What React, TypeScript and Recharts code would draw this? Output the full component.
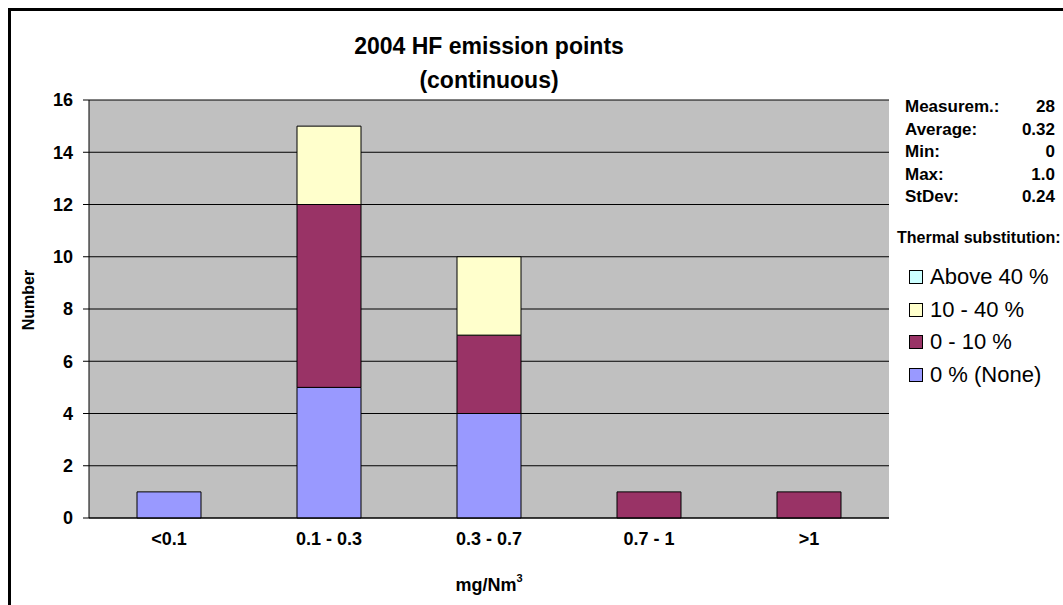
import React from 'react';
import { BarChart, Bar, XAxis, YAxis, CartesianGrid, Legend, ReferenceLine, Label } from 'recharts';

const categories = ['<0.1', '0.1 - 0.3', '0.3 - 0.7', '0.7 - 1', '>1'];
const noneValues = [1, 5, 4, 0, 0];
const lowValues = [0, 7, 3, 1, 1];
const midValues = [0, 3, 3, 0, 0];
const highValues = [0, 0, 0, 0, 0];
const yTicks = [0, 2, 4, 6, 8, 10, 12, 14, 16];
const boundaryTicks = [0, 1, 2, 3, 4, 5];
const statLabels = ['Measurem.:', 'Average:', 'Min:', 'Max:', 'StDev:'];
const statValues = ['28', '0.32', '0', '1.0', '0.24'];

const seriesNames = { none: '0 % (None)', low: '0 - 10 %', mid: '10 - 40 %', high: 'Above 40 %' };
const seriesColors = { none: '#9999FF', low: '#993366', mid: '#FFFFCC', high: '#CCFFFF' };

const data = categories.map((c, i) => ({
  cat: c,
  none: noneValues[i],
  low: lowValues[i],
  mid: midValues[i],
  high: highValues[i],
}));

const FONT = '"Liberation Sans", Arial, sans-serif';

const LegendContent = (props: any) => {
  const payload = [...(props.payload || [])].reverse();
  return (
    <div style={{ position: 'relative', width: 1063, height: 605, fontFamily: FONT, color: '#000' }}>
      {statLabels.map((l, i) => (
        <div key={l} style={{ position: 'absolute', left: 905, top: 96 + i * 22.6, width: 150, display: 'flex', justifyContent: 'space-between', fontWeight: 'bold', fontSize: 17, height: 22, lineHeight: '22px' }}>
          <span>{l}</span>
          <span>{statValues[i]}</span>
        </div>
      ))}
      <div style={{ position: 'absolute', left: 897, top: 228, fontWeight: 'bold', fontSize: 16, whiteSpace: 'nowrap', lineHeight: '20px' }}>
        Thermal substitution:
      </div>
      {payload.map((p: any, i: number) => (
        <div key={p.value} style={{ position: 'absolute', left: 909, top: 261 + i * 32.5, display: 'flex', alignItems: 'center', height: 32, fontSize: 22, whiteSpace: 'nowrap' }}>
          <span style={{ display: 'inline-block', width: 12, height: 12, background: p.color, border: '1px solid #000', marginRight: 7 }} />
          <span>{p.value}</span>
        </div>
      ))}
    </div>
  );
};

const XTitle = (props: any) => {
  const vb = props.viewBox;
  const cx = vb.x + vb.width / 2;
  return (
    <text x={cx} y={vb.y + 73} textAnchor="middle" fontFamily={FONT} fontWeight="bold" fontSize={18} fill="#000">
      mg/Nm<tspan fontSize={11} dy={-9}>3</tspan>
    </text>
  );
};

const YTitle = (props: any) => {
  const vb = props.viewBox;
  const cy = vb.y + vb.height / 2 - 9;
  const cx = 28;
  return (
    <text x={cx} y={cy} transform={`rotate(-90, ${cx}, ${cy})`} textAnchor="middle" dominantBaseline="central" fontFamily={FONT} fontWeight="bold" fontSize={16} fill="#000">
      Number
    </text>
  );
};

export default function App() {
  return (
    <div style={{ position: 'absolute', left: 0, top: 0, width: 1063, height: 605, overflow: 'hidden', background: '#fff' }}>
      <div style={{ position: 'absolute', left: 8, top: 8, width: 2000, height: 2000, border: '3px solid #000' }} />
      <div style={{ position: 'absolute', left: 0, top: 0 }}>
        <BarChart width={1063} height={605} data={data} margin={{ top: 100, right: 174, bottom: 0, left: 29 }} barSize={64} style={{ fontFamily: FONT }}>
          <CartesianGrid xAxisId="cat" vertical={false} fill="#C0C0C0" stroke="#000" strokeOpacity={1} />
          <XAxis xAxisId="edge" type="number" domain={[0, 5]} ticks={boundaryTicks} height={0} tick={false} tickLine={{ stroke: '#000' }} tickSize={5} axisLine={false} allowDataOverflow />
          <XAxis xAxisId="cat" dataKey="cat" height={87} tickLine={false} axisLine={{ stroke: '#000' }} tickSize={6} tickMargin={8} tick={{ fill: '#000', fontSize: 18, fontWeight: 'bold', fontFamily: FONT }} interval={0}>
            <Label content={<XTitle />} />
          </XAxis>
          <YAxis domain={[0, 16]} ticks={yTicks} width={60} axisLine={{ stroke: '#000' }} tickLine={{ stroke: '#000' }} tickSize={6} tickMargin={10} tick={{ fill: '#000', fontSize: 18, fontWeight: 'bold', fontFamily: FONT }} interval={0}>
            <Label content={<YTitle />} />
          </YAxis>
          <ReferenceLine xAxisId="edge" x={5} stroke="#808080" />
          <Legend layout="vertical" align="center" verticalAlign="middle" content={<LegendContent />} wrapperStyle={{ left: 0, top: 0, width: 1063, height: 605, pointerEvents: 'none' }} />
          <Bar xAxisId="cat" dataKey="none" name={seriesNames.none} stackId="s" fill={seriesColors.none} stroke="#000" strokeWidth={1} isAnimationActive={false} />
          <Bar xAxisId="cat" dataKey="low" name={seriesNames.low} stackId="s" fill={seriesColors.low} stroke="#000" strokeWidth={1} isAnimationActive={false} />
          <Bar xAxisId="cat" dataKey="mid" name={seriesNames.mid} stackId="s" fill={seriesColors.mid} stroke="#000" strokeWidth={1} isAnimationActive={false} />
          <Bar xAxisId="cat" dataKey="high" name={seriesNames.high} stackId="s" fill={seriesColors.high} stroke="#000" strokeWidth={1} isAnimationActive={false} />
          <text x={489} y={54} textAnchor="middle" fontFamily={FONT} fontWeight="bold" fontSize={23} fill="#000">2004 HF emission points</text>
          <text x={489} y={88} textAnchor="middle" fontFamily={FONT} fontWeight="bold" fontSize={23} fill="#000">(continuous)</text>
        </BarChart>
      </div>
    </div>
  );
}
